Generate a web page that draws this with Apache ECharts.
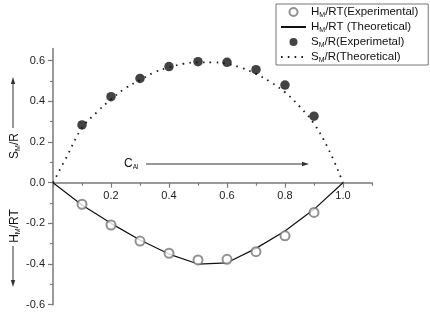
<!DOCTYPE html>
<html>
<head>
<meta charset="utf-8">
<script src="https://cdn.jsdelivr.net/npm/echarts@6/dist/echarts.min.js"></script>
<style>html,body{margin:0;padding:0;background:#fff}#c{width:430px;height:314px}</style>
</head>
<body>
<div id="c"></div>
<script>
// ---- data ----
const expX = [0.1, 0.2, 0.3, 0.4, 0.5, 0.6, 0.7, 0.8, 0.9];
const hExp = [-0.106, -0.208, -0.287, -0.347, -0.380, -0.377, -0.339, -0.261, -0.146];
const sExp = [0.284, 0.423, 0.513, 0.571, 0.595, 0.592, 0.556, 0.480, 0.327];
const hThX = [0, 0.1, 0.2, 0.3, 0.4, 0.5, 0.6, 0.7, 0.8, 0.9, 1.0];
const hTh  = [0, -0.110, -0.200, -0.282, -0.351, -0.400, -0.394, -0.323, -0.238, -0.131, 0];
const sThX = [0, 0.05, 0.1, 0.15, 0.2, 0.25, 0.3, 0.35, 0.4, 0.45, 0.5, 0.55, 0.6, 0.65, 0.7, 0.75, 0.8, 0.85, 0.9, 0.95, 1.0];
const sTh  = [0, 0.135, 0.27, 0.345, 0.41, 0.465, 0.505, 0.543, 0.567, 0.585, 0.592, 0.592, 0.585, 0.565, 0.535, 0.495, 0.445, 0.375, 0.29, 0.165, 0];
const seriesNames = ['H_M/RT(Experimental)', 'H_M/RT (Theoretical)', 'S_M/R(Experimetal)', 'S_M/R(Theoretical)'];
const xLabelTicks = [0.2, 0.4, 0.6, 0.8, 1.0];
const xMajorTicks = [0, 0.2, 0.4, 0.6, 0.8, 1.0];
const xMinorTicks = [0.1, 0.3, 0.5, 0.7, 0.9, 1.1];
const yLabelTicks = [-0.6, -0.4, -0.2, 0, 0.2, 0.4, 0.6];
const yMinorTicks = [-0.5, -0.3, -0.1, 0.1, 0.3, 0.5];

const zip = (xs, ys) => xs.map((x, i) => [x, ys[i]]);
const FONT = 'Liberation Sans, Arial, sans-serif';
const AX = '#7a7a7a';

function richName(name) {
  const m = name.match(/^(\w)_M(.*)$/);
  return '{n|' + m[1] + '}{s|M}{n|' + m[2] + '}';
}

const chart = echarts.init(document.getElementById('c'), null, {renderer: 'canvas'});

const Y_MIN = -0.6, Y_MAX = 0.66;
const G = {left: 53, right: 58, top: 48.5, bottom: 9.3};
const plotH = 314 - G.top - G.bottom;
// the x axis sits on y = 0: shift it up from the grid's bottom edge by the span from Y_MIN to 0
const xAxisOffset = -plotH * (0 - Y_MIN) / (Y_MAX - Y_MIN);

const gridRect = Object.assign({containLabel: false, outerBoundsMode: 'none'}, G);
const baseX = {type: 'value', min: 0, max: 1.1, splitLine: {show: false}};
const baseY = {type: 'value', min: Y_MIN, max: Y_MAX, splitLine: {show: false}};

chart.setOption({
  animation: false,
  backgroundColor: '#fff',
  // grid 0 holds the data, grid 1 the main axes, grid 2 the minor ticks (same rectangle)
  grid: [Object.assign({}, gridRect), Object.assign({}, gridRect), Object.assign({}, gridRect)],
  xAxis: [
    Object.assign({}, baseX, {gridIndex: 0, show: false}),
    Object.assign({}, baseX, {
      gridIndex: 1, position: 'bottom', offset: xAxisOffset,
      axisLine: {onZero: false, lineStyle: {color: AX, width: 1.5}},
      axisTick: {customValues: xMajorTicks, length: 5, lineStyle: {color: AX, width: 1.2}},
      axisLabel: {customValues: xLabelTicks, margin: 8, color: '#222', fontSize: 11, fontFamily: FONT,
                  formatter: v => v.toFixed(1)}
    }),
    Object.assign({}, baseX, {
      gridIndex: 2, position: 'bottom', offset: xAxisOffset,
      axisLine: {show: false, onZero: false},
      axisTick: {customValues: xMinorTicks, length: 3, lineStyle: {color: AX, width: 1.2}},
      axisLabel: {show: false}
    })
  ],
  yAxis: [
    Object.assign({}, baseY, {gridIndex: 0, show: false}),
    Object.assign({}, baseY, {
      gridIndex: 1, position: 'left',
      axisLine: {show: true, onZero: false, lineStyle: {color: AX, width: 1.5}},
      axisTick: {show: true, customValues: yLabelTicks, length: 5, lineStyle: {color: AX, width: 1.2}},
      axisLabel: {customValues: yLabelTicks, margin: 8, color: '#222', fontSize: 11, fontFamily: FONT,
                  formatter: v => v.toFixed(1)}
    }),
    Object.assign({}, baseY, {
      gridIndex: 2, position: 'left',
      axisLine: {show: false, onZero: false},
      axisTick: {show: true, customValues: yMinorTicks, length: 3, lineStyle: {color: AX, width: 1.2}},
      axisLabel: {show: false}
    })
  ],
  legend: {
    orient: 'vertical',
    left: 276, top: 4,
    padding: [2, 10, 1, 4],
    borderColor: '#777', borderWidth: 1,
    itemWidth: 25, itemHeight: 8, itemGap: 2,
    data: [
      {name: seriesNames[0]},
      {name: seriesNames[1], itemStyle: {opacity: 0}},
      {name: seriesNames[2]},
      {name: seriesNames[3], itemStyle: {opacity: 0}}
    ],
    formatter: richName,
    textStyle: {
      rich: {
        n: {fontSize: 11.5, fontFamily: FONT, color: '#111', lineHeight: 14},
        s: {fontSize: 7, fontFamily: FONT, color: '#111', lineHeight: 4, verticalAlign: 'bottom'}
      }
    }
  },
  series: [
    {name: seriesNames[0], type: 'scatter', xAxisIndex: 0, yAxisIndex: 0, data: zip(expX, hExp),
     symbol: 'emptyCircle', symbolSize: 9,
     itemStyle: {color: '#777', borderColor: '#777', borderWidth: 1.1}, z: 3},
    {name: seriesNames[1], type: 'line', xAxisIndex: 0, yAxisIndex: 0, data: zip(hThX, hTh), symbol: 'none',
     lineStyle: {color: '#111', width: 1.2}, itemStyle: {color: '#111'}, z: 2},
    {name: seriesNames[2], type: 'scatter', xAxisIndex: 0, yAxisIndex: 0, data: zip(expX, sExp),
     symbol: 'circle', symbolSize: 9.5, itemStyle: {color: '#141414'}, z: 3},
    {name: seriesNames[3], type: 'line', xAxisIndex: 0, yAxisIndex: 0, data: zip(sThX, sTh), symbol: 'none',
     smooth: 0.4, lineStyle: {color: '#1a1a1a', width: 1.8, type: [1.6, 5.2]}, itemStyle: {color: '#1a1a1a'}, z: 2}
  ],
  graphic: [
    // C_Al label and arrow
    {type: 'text', x: 124, y: 164, style: {
      text: '{n|C}{s|Al}', textVerticalAlign: 'middle',
      rich: {
        n: {fontSize: 12, fontFamily: FONT, fill: '#111', lineHeight: 14},
        s: {fontSize: 6.5, fontFamily: FONT, fill: '#111', lineHeight: 4, verticalAlign: 'bottom'}
      }}},
    {type: 'line', shape: {x1: 146, y1: 164, x2: 303, y2: 164}, style: {stroke: '#333', lineWidth: 1}},
    {type: 'polygon', shape: {points: [[309, 164], [302, 161.8], [302, 166.2]]}, style: {fill: '#333'}},
    // S_M/R axis title with upward arrow
    {type: 'text', x: 15, y: 146, rotation: Math.PI / 2, style: {
      text: '{n|S}{s|M}{n|/R}', textAlign: 'center', textVerticalAlign: 'middle',
      rich: {
        n: {fontSize: 12, fontFamily: FONT, fill: '#111', lineHeight: 14},
        s: {fontSize: 7, fontFamily: FONT, fill: '#111', lineHeight: 4, verticalAlign: 'bottom'}
      }}},
    {type: 'line', shape: {x1: 13, y1: 128, x2: 13, y2: 83}, style: {stroke: '#333', lineWidth: 1}},
    {type: 'polygon', shape: {points: [[13, 77], [10.8, 84], [15.2, 84]]}, style: {fill: '#333'}},
    // H_M/RT axis title with downward arrow
    {type: 'text', x: 15, y: 226, rotation: Math.PI / 2, style: {
      text: '{n|H}{s|M}{n|/RT}', textAlign: 'center', textVerticalAlign: 'middle',
      rich: {
        n: {fontSize: 12, fontFamily: FONT, fill: '#111', lineHeight: 14},
        s: {fontSize: 7, fontFamily: FONT, fill: '#111', lineHeight: 4, verticalAlign: 'bottom'}
      }}},
    {type: 'line', shape: {x1: 13, y1: 246, x2: 13, y2: 281}, style: {stroke: '#333', lineWidth: 1}},
    {type: 'polygon', shape: {points: [[13, 287], [10.8, 280], [15.2, 280]]}, style: {fill: '#333'}}
  ]
});
</script>
</body>
</html>
